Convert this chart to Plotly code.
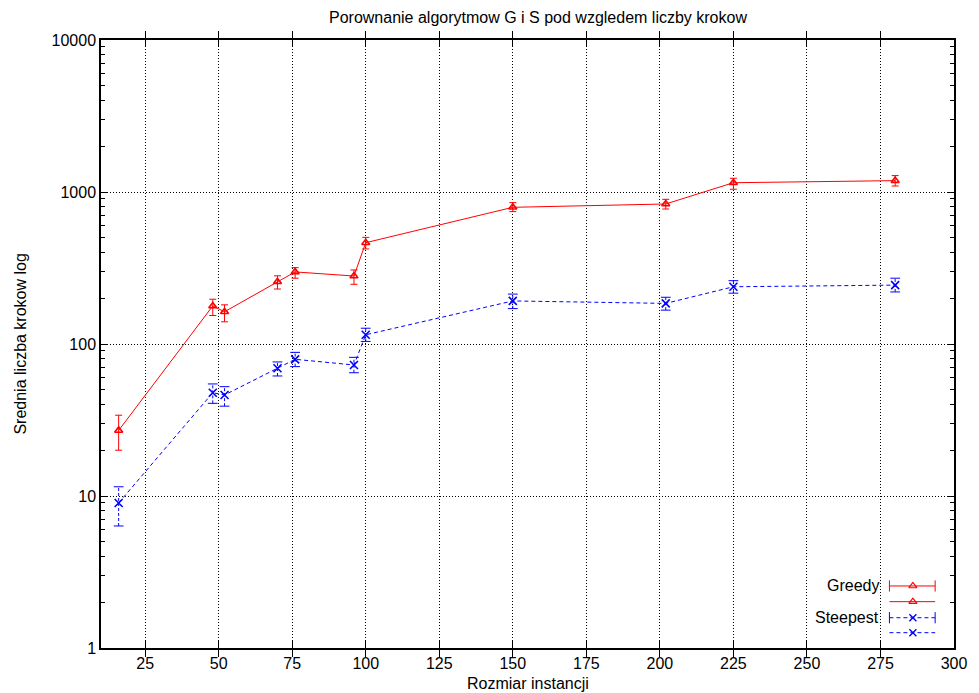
import plotly.graph_objects as go

# Instance sizes and step counts (mean with lower / upper bounds)
sizes = [16, 48, 52, 70, 76, 96, 100, 150, 202, 225, 280]

greedy_mean = [27, 178, 163, 257, 298, 280, 464, 793, 834, 1151, 1188]
greedy_low = [20, 154, 140, 230, 271, 247, 422, 743, 773, 1042, 1095]
greedy_high = [34, 197, 181, 281, 318, 307, 503, 851, 895, 1231, 1282]

steepest_mean = [9.0, 47.8, 46.2, 69.2, 79.3, 72.8, 115, 192, 185, 238, 244]
steepest_low = [6.35, 40.7, 39, 61.6, 71, 64.7, 104, 171, 167, 216, 220]
steepest_high = [11.5, 54.6, 52.4, 76.2, 88.1, 81.7, 127, 213, 203, 261, 271]

x_ticks = [25, 50, 75, 100, 125, 150, 175, 200, 225, 250, 275, 300]
y_ticks = [1, 10, 100, 1000, 10000]
y_tick_labels = ["1", "10", "100", "1000", "10000"]
y_minor_ticks = [k * d for d in (1, 10, 100, 1000) for k in range(2, 10)]

RED = "#ff0000"
BLUE = "#0000ff"
FONT = "Liberation Sans, Arial, sans-serif"
FS = 16
BLUE_DASH = "4px,3px"

fig = go.Figure()

# Greedy: solid line, triangles, capped error bars
fig.add_trace(go.Scatter(
    x=sizes, y=greedy_mean, mode="lines+markers",
    line=dict(color=RED, width=1),
    marker=dict(symbol="triangle-up-open", size=7, color=RED, line=dict(width=1.6, color=RED)),
    error_y=dict(type="data", symmetric=False,
                 array=[h - m for h, m in zip(greedy_high, greedy_mean)],
                 arrayminus=[m - l for m, l in zip(greedy_mean, greedy_low)],
                 color=RED, thickness=1, width=3.5),
    showlegend=False, hoverinfo="skip",
))

# Steepest: dashed error bars built as segments, with caps
seg_x, seg_y = [], []
for xv, lo, hi in zip(sizes, steepest_low, steepest_high):
    seg_x += [xv, xv, None]
    seg_y += [lo, hi, None]
fig.add_trace(go.Scatter(
    x=seg_x, y=seg_y, mode="lines",
    line=dict(color=BLUE, width=1, dash="3px,2px"),
    showlegend=False, hoverinfo="skip",
))
fig.add_trace(go.Scatter(
    x=sizes + sizes, y=steepest_low + steepest_high, mode="markers",
    marker=dict(symbol="line-ew", size=7, line=dict(width=1, color=BLUE)),
    showlegend=False, hoverinfo="skip",
))
fig.add_trace(go.Scatter(
    x=sizes, y=steepest_mean, mode="lines+markers",
    line=dict(color=BLUE, width=1, dash=BLUE_DASH),
    marker=dict(symbol="x-thin", size=8, line=dict(width=1.6, color=BLUE)),
    showlegend=False, hoverinfo="skip",
))

# Empty trace that carries the minor-tick log axis
fig.add_trace(go.Scatter(
    x=[None], y=[None], mode="markers", yaxis="y3",
    showlegend=False, hoverinfo="skip",
))

# Key drawn on an overlay axis spanning the plot area (0..1 both ways)
key_x0, key_x1, key_xm = 0.9243, 0.9779, 0.9518
key_rows = [0.102, 0.0762, 0.0498, 0.0252]

fig.add_trace(go.Scatter(
    x=[key_x0, key_x1], y=[key_rows[0]] * 2, mode="lines+markers",
    line=dict(color=RED, width=1),
    marker=dict(symbol="line-ns", size=8, line=dict(width=1, color=RED)),
    xaxis="x2", yaxis="y2", showlegend=False, hoverinfo="skip",
))
fig.add_trace(go.Scatter(
    x=[key_x0, key_x1], y=[key_rows[1]] * 2, mode="lines",
    line=dict(color=RED, width=1),
    xaxis="x2", yaxis="y2", showlegend=False, hoverinfo="skip",
))
fig.add_trace(go.Scatter(
    x=[key_xm, key_xm], y=key_rows[:2], mode="markers",
    marker=dict(symbol="triangle-up-open", size=7, color=RED, line=dict(width=1.2, color=RED)),
    xaxis="x2", yaxis="y2", showlegend=False, hoverinfo="skip",
))
fig.add_trace(go.Scatter(
    x=[key_x0, key_x1], y=[key_rows[2]] * 2, mode="lines+markers",
    line=dict(color=BLUE, width=1, dash=BLUE_DASH),
    marker=dict(symbol="line-ns", size=8, line=dict(width=1, color=BLUE)),
    xaxis="x2", yaxis="y2", showlegend=False, hoverinfo="skip",
))
fig.add_trace(go.Scatter(
    x=[key_x0, key_x1], y=[key_rows[3]] * 2, mode="lines",
    line=dict(color=BLUE, width=1, dash=BLUE_DASH),
    xaxis="x2", yaxis="y2", showlegend=False, hoverinfo="skip",
))
fig.add_trace(go.Scatter(
    x=[key_xm, key_xm], y=key_rows[2:], mode="markers",
    marker=dict(symbol="x-thin", size=7, line=dict(width=1.4, color=BLUE)),
    xaxis="x2", yaxis="y2", showlegend=False, hoverinfo="skip",
))

axis_common = dict(
    showline=True, linecolor="black", linewidth=1.5, mirror="allticks",
    ticks="inside", ticklen=7, tickcolor="black",
    showgrid=True, gridcolor="black", griddash="1px,2px", gridwidth=1,
    zeroline=False,
    tickfont=dict(family=FONT, size=FS, color="black"),
)

fig.update_layout(
    width=979, height=693,
    margin=dict(l=101, r=19, t=40, b=45),
    paper_bgcolor="white", plot_bgcolor="white",
    font=dict(family=FONT, size=FS, color="black"),
    title=dict(text="Porownanie algorytmow G i S pod wzgledem liczby krokow",
               x=538 / 979, xanchor="center",
               y=1 - 17 / 693, yanchor="middle", yref="container",
               font=dict(family=FONT, size=FS, color="black")),
    xaxis=dict(range=[10, 300], tickvals=x_ticks, ticklabelstandoff=0, **axis_common),
    yaxis=dict(type="log", range=[0, 4], tickvals=y_ticks, ticktext=y_tick_labels,
               **axis_common),
    yaxis3=dict(type="log", range=[0, 4], overlaying="y", anchor="x", side="left",
                tickvals=y_minor_ticks, ticks="inside", ticklen=4, tickcolor="black",
                showticklabels=False, showgrid=False, zeroline=False,
                showline=False, mirror="ticks", fixedrange=True),
    xaxis2=dict(overlaying="x", range=[0, 1], visible=False, fixedrange=True),
    yaxis2=dict(overlaying="y", range=[0, 1], visible=False, fixedrange=True),
    shapes=[dict(type="rect", xref="paper", yref="paper",
                 x0=0.805, x1=0.998, y0=0.002, y1=0.117,
                 fillcolor="white", line=dict(width=0), layer="between")],
    annotations=[
        dict(text="Rozmiar instancji", xref="paper", yref="paper",
             x=0.5, y=-(683 - 648) / 608, xanchor="center", yanchor="middle",
             showarrow=False, font=dict(family=FONT, size=FS)),
        dict(text="Srednia liczba krokow log", xref="paper", yref="paper",
             x=(19 - 101) / 859, y=0.5, xanchor="center", yanchor="middle",
             textangle=-90, showarrow=False, font=dict(family=FONT, size=FS)),
        dict(text="Greedy", xref="paper", yref="paper",
             x=0.9139, y=key_rows[0], xanchor="right", yanchor="middle",
             showarrow=False, font=dict(family=FONT, size=FS)),
        dict(text="Steepest", xref="paper", yref="paper",
             x=0.9139, y=key_rows[2], xanchor="right", yanchor="middle",
             showarrow=False, font=dict(family=FONT, size=FS)),
    ],
)

fig.write_html("out.html")
